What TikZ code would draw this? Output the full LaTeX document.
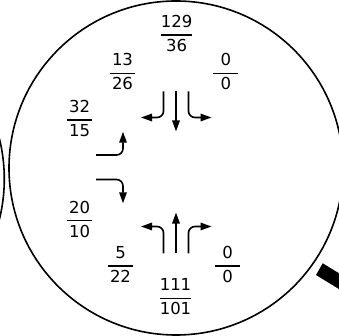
\documentclass[tikz,border=0pt]{standalone}
\usepackage{amsmath}
\usepackage{fontspec}
\setmainfont{DejaVu Sans}
\usetikzlibrary{arrows.meta}
\newcommand{\fr}[2]{$\genfrac{}{}{1.3pt}{0}{\text{\ooalign{\hfil#1\hfil\cr\hskip1.5em\cr}}}{\text{#2}}$}

\begin{document}
\begin{tikzpicture}[x=1pt, y=-1pt, every node/.style={font=\fontsize{16.5}{19}\selectfont},
	frac/.style={anchor=base, inner sep=0pt, yshift=-4.2pt},
	turn/.style={line width=1.6pt, rounded corners=6.5pt, -{Triangle[length=11pt, width=7.5pt]}}]
	\useasboundingbox (0,0) rectangle (339,336);
	\clip (0,0) rectangle (339,336);
	\draw[line width=1.6pt] (176,168) circle (167);
	\draw[line width=1.6pt] (-162.7,179) circle (167);
	\fill (322.7,263.3) -- (316,275) -- (367.2,306.3) -- (373.9,294.6) -- cycle;
	\foreach \nm/\x/\y/\a/\b in {lblN/176.7/35/129/36, lblNW/122.5/73.3/13/26, lblNE/225.8/73.3/0/0,
		lblWN/79.7/120/32/15, lblWS/79.7/220.7/20/10, lblSW/120.5/266/5/22, lblSE/227.5/266/0/0, lblS/175.5/298.3/111/101} {
		\node[frac] (\nm) at (\x,\y) {\fr{\a}{\b}};
	}
	\draw[turn] (176,91.5) -- (176,131.5);
	\draw[turn] (163.5,91.5) |- (141,117.5);
	\draw[turn] (188.5,91.5) |- (211.5,117.5);
	\draw[turn] (176,253.3) -- (176,212.5);
	\draw[turn] (163.5,253.3) |- (141,226.5);
	\draw[turn] (188.5,253.3) |- (211.5,226.5);
	\draw[turn] (96,155) -| (123,131.7);
	\draw[turn] (96,179.5) -| (123,203.3);
\end{tikzpicture}
\end{document}
